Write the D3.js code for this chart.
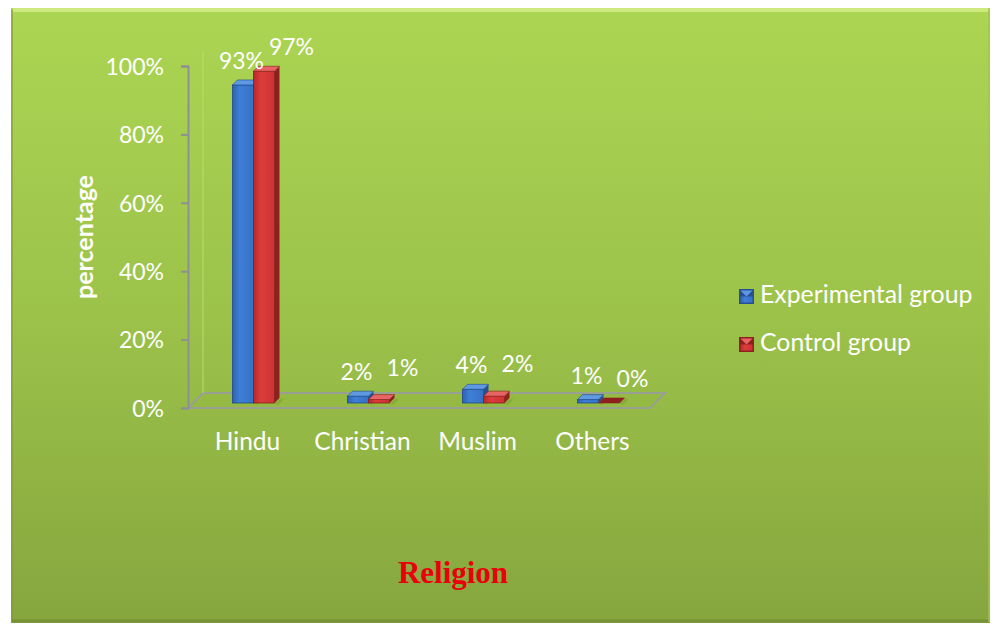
<!DOCTYPE html>
<html>
<head>
<meta charset="utf-8">
<script src="https://cdn.jsdelivr.net/npm/d3@7"></script>
<style>
  html, body { margin: 0; padding: 0; background: #ffffff; }
  svg { display: block; }
</style>
</head>
<body>
<svg id="chart" width="996" height="629"></svg>
<script>
// Religion distribution of the two study groups
const categories = ["Hindu", "Christian", "Muslim", "Others"];
const experimental = [0.93, 0.02, 0.04, 0.01];
const control = [0.97, 0.01, 0.02, 0.00];
const seriesNames = ["Experimental group", "Control group"];
const yTicks = [0, 0.2, 0.4, 0.6, 0.8, 1.0];

const svg = d3.select("#chart");
const defs = svg.append("defs");

// panel background gradient
const bg = defs.append("linearGradient").attr("id", "bg")
  .attr("x1", 0).attr("y1", 0).attr("x2", 0).attr("y2", 1);
bg.append("stop").attr("offset", "0%").attr("stop-color", "#acd553");
bg.append("stop").attr("offset", "50%").attr("stop-color", "#9cc24a");
bg.append("stop").attr("offset", "100%").attr("stop-color", "#86a63e");

// face gradients for 3D columns
function faceGrad(id, c1, c2, c3) {
  const g = defs.append("linearGradient").attr("id", id)
    .attr("x1", 0).attr("y1", 0).attr("x2", 1).attr("y2", 0);
  g.append("stop").attr("offset", "0%").attr("stop-color", c1);
  g.append("stop").attr("offset", "35%").attr("stop-color", c2);
  g.append("stop").attr("offset", "100%").attr("stop-color", c3);
}
faceGrad("blueFront", "#2f62b3", "#3f7fd6", "#3572c6");
faceGrad("redFront", "#b52a2a", "#dd3c3c", "#cc3333");

const palette = [
  { front: "url(#blueFront)", side: "#274f92", top: "#5f98e3", edge: "#1f4a8c" },
  { front: "url(#redFront)", side: "#8f2020", top: "#e86464", edge: "#8a1c1c" }
];

// panel with bevel
svg.append("rect").attr("x", 11).attr("y", 8).attr("width", 979).attr("height", 615)
  .attr("fill", "url(#bg)");
svg.append("path").attr("d", "M13,10 H988").attr("stroke", "#d7f08a").attr("stroke-width", 4).attr("opacity", 0.8);
svg.append("path").attr("d", "M12,10 V621").attr("stroke", "#7e9c3a").attr("stroke-width", 2).attr("opacity", 0.6);
svg.append("path").attr("d", "M12,621 H989").attr("stroke", "#6f8a33").attr("stroke-width", 3).attr("opacity", 0.7);
svg.append("path").attr("d", "M989,10 V622").attr("stroke", "#a3c456").attr("stroke-width", 2).attr("opacity", 0.7);

// scales
const x = d3.scaleBand().domain(categories).range([190, 650]);
const y = d3.scaleLinear().domain([0, 1]).range([408, 66]);

// floor of the 3D plot area
const depth = 15;
svg.append("path")
  .attr("d", `M${x.range()[0] - 2},${y(0)} L${x.range()[0] + depth - 2},${y(0) - depth} L${x.range()[1] + depth},${y(0) - depth} L${x.range()[1]},${y(0)} Z`)
  .attr("fill", "#94ba44").attr("stroke", "#9a9f94").attr("stroke-width", 2);

// faint back wall edge
svg.append("line").attr("x1", x.range()[0] + depth - 2).attr("x2", x.range()[0] + depth - 2)
  .attr("y1", y(1) - depth).attr("y2", y(0) - depth)
  .attr("stroke", "#b9dc6c").attr("stroke-width", 1);

// vertical axis
const axis = svg.append("g").attr("transform", "translate(188,0)")
  .call(d3.axisLeft(y).tickValues(yTicks).tickFormat(d3.format(".0%")).tickSize(7).tickPadding(17));
axis.select(".domain").attr("stroke", "#8f8f96").attr("stroke-width", 2);
axis.selectAll(".tick line").attr("stroke", "#8f8f96").attr("stroke-width", 2);
axis.selectAll(".tick text").attr("fill", "#ffffff").attr("font-family", "Lato")
  .attr("font-size", 23).attr("dy", "0.36em");

// 3D columns
const shiftX = 6, shiftY = -5, barW = 21, bd = 5;
const series = [experimental, control];
series.forEach((vals, si) => {
  const col = palette[si];
  const g = svg.append("g");
  categories.forEach((cat, ci) => {
    const c = x(cat) + x.bandwidth() / 2;
    const x0 = c - 21 + si * barW + shiftX;
    const yb = y(0) + shiftY;
    const yt = y(vals[ci]) + shiftY;
    // shadow on the floor
    g.append("path")
      .attr("d", `M${x0 + barW},${yb} L${x0 + barW + bd + 3},${yb - bd} L${x0 + barW + bd + 3},${yb - bd + 3} L${x0 + barW + 3},${yb + 2} Z`)
      .attr("fill", "#6f8f2c").attr("opacity", 0.35);
    // side face
    g.append("path")
      .attr("d", `M${x0 + barW},${yb} L${x0 + barW},${yt} L${x0 + barW + bd},${yt - bd} L${x0 + barW + bd},${yb - bd} Z`)
      .attr("fill", col.side);
    // front face
    g.append("rect").attr("x", x0).attr("y", yt).attr("width", barW).attr("height", Math.max(0, yb - yt))
      .attr("fill", col.front).attr("stroke", col.edge).attr("stroke-width", 0.8);
    // top face
    g.append("path")
      .attr("d", `M${x0},${yt} L${x0 + bd},${yt - bd} L${x0 + barW + bd},${yt - bd} L${x0 + barW},${yt} Z`)
      .attr("fill", vals[ci] === 0 ? col.side : col.top).attr("stroke", col.edge).attr("stroke-width", 0.6);
  });
});

// value labels
const labelOffsets = [-6, 40];
series.forEach((vals, si) => {
  svg.append("g").selectAll("text").data(vals).join("text")
    .attr("x", (d, i) => x(categories[i]) + x.bandwidth() / 2 + labelOffsets[si] + (si === 1 && d > 0.5 ? 4 : 0))
    .attr("y", d => y(d) - (si === 1 && d > 0 && d < 0.5 ? 29 : 21))
    .attr("text-anchor", "middle")
    .attr("fill", "#ffffff").attr("font-family", "Lato").attr("font-size", 23)
    .text(d => d3.format(".0%")(d));
});

// category labels
svg.append("g").selectAll("text").data(categories).join("text")
  .attr("x", d => x(d) + x.bandwidth() / 2)
  .attr("y", 450)
  .attr("text-anchor", "middle")
  .attr("fill", "#ffffff").attr("font-family", "Lato").attr("font-size", 24.5)
  .text(d => d);

// y axis title
svg.append("text")
  .attr("transform", "translate(93,237) rotate(-90)")
  .attr("text-anchor", "middle")
  .attr("fill", "#ffffff").attr("font-family", "Lato").attr("font-weight", "bold").attr("font-size", 25)
  .text("percentage");

// x axis title
svg.append("text")
  .attr("x", 453).attr("y", 583)
  .attr("text-anchor", "middle")
  .attr("fill", "#e8000b").attr("font-family", "Liberation Serif").attr("font-weight", "bold").attr("font-size", 31)
  .text("Religion");

// legend
const legend = svg.append("g");
seriesNames.forEach((name, i) => {
  const ly = 289 + i * 48;
  const col = palette[i];
  const m = legend.append("g").attr("transform", `translate(739,${ly})`);
  m.append("rect").attr("width", 15).attr("height", 15).attr("fill", col.side);
  m.append("path").attr("d", "M1.5,1.5 H13.5 L7.5,7.5 Z").attr("fill", col.top);
  m.append("rect").attr("x", 1.5).attr("y", 7.5).attr("width", 12).attr("height", 6).attr("fill", col.front);
  legend.append("text").attr("x", 760).attr("y", ly + 14)
    .attr("fill", "#ffffff").attr("font-family", "Lato").attr("font-size", 24.8)
    .text(name);
});
</script>
</body>
</html>
